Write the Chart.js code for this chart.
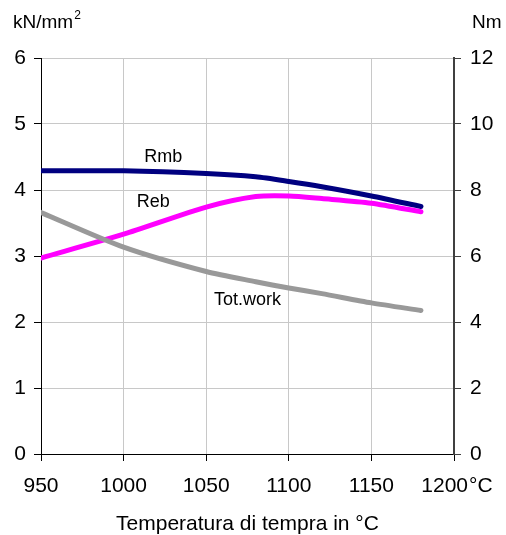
<!DOCTYPE html>
<html>
<head>
<meta charset="utf-8">
<script src="https://cdn.jsdelivr.net/npm/chart.js@4"></script>
<style>
  html, body { margin: 0; padding: 0; background: #fff; }
  #wrap { position: relative; width: 506px; height: 535px; }
</style>
</head>
<body>
<div id="wrap"><canvas id="cv"></canvas></div>
<script>
// temperatura di tempra (°C)
const temps     = [950, 1000, 1050, 1080, 1100, 1120, 1150, 1180];
// kN/mm2 (asse sinistro)
const rmb       = [4.29, 4.29, 4.25, 4.20, 4.13, 4.05, 3.91, 3.75];
const reb       = [2.97, 3.33, 3.74, 3.90, 3.91, 3.87, 3.80, 3.67];
// Nm (asse destro)
const totWork   = [7.32, 6.27, 5.53, 5.22, 5.03, 4.86, 4.58, 4.35];

const xTicks    = [950, 1000, 1050, 1100, 1150, 1200];
const leftMax   = 6,  leftStep  = 1;
const rightMax  = 12, rightStep = 2;

const FONT = 'Liberation Sans, Arial, sans-serif';
const FS = 21;      // tick e titolo asse x
const FS_LBL = 18;  // etichette curve
const FS_UNIT = 19; // unità assi y
const pts = arr => temps.map((t, i) => ({ x: t, y: arr[i] }));

// etichette delle curve (in coordinate dati)
const curveLabels = [
  { text: 'Rmb',      x: 1024, y: 4.50, axis: 'y' },
  { text: 'Reb',      x: 1018, y: 3.82, axis: 'y' },
  { text: 'Tot.work', x: 1075, y: 4.66, axis: 'y2' },
];

const textPlugin = {
  id: 'texts',
  afterDraw(chart) {
    const ctx = chart.ctx, xs = chart.scales.x;
    ctx.save();
    ctx.fillStyle = '#000';
    ctx.font = FS_LBL + 'px ' + FONT;
    ctx.textBaseline = 'middle';
    ctx.textAlign = 'center';
    curveLabels.forEach(l => {
      ctx.fillText(l.text, xs.getPixelForValue(l.x), chart.scales[l.axis].getPixelForValue(l.y));
    });
    // asse x: 1200 °C
    const px = xs.getPixelForValue(1200);
    ctx.font = FS + 'px ' + FONT;
    ctx.textBaseline = 'alphabetic';
    ctx.textAlign = 'right';
    ctx.fillText('1200', px + 14, 492);
    ctx.textAlign = 'left';
    ctx.fillText('°C', px + 15, 492);
    // titoli assi y
    ctx.font = FS_UNIT + 'px ' + FONT;
    ctx.fillText('kN/mm', 13, 28);
    const w = ctx.measureText('kN/mm').width;
    ctx.font = '12px ' + FONT;
    ctx.fillText('2', 13 + w + 1, 19);
    ctx.font = FS_UNIT + 'px ' + FONT;
    ctx.fillText('Nm', 472, 28);
    ctx.restore();
  }
};

const lineDs = (label, data, color, axis) => ({
  label, data: pts(data), yAxisID: axis,
  borderColor: color, backgroundColor: color,
  borderWidth: 5, pointRadius: 0, tension: 0.25,
  borderCapStyle: 'round', borderJoinStyle: 'round', fill: false,
});

new Chart(document.getElementById('cv'), {
  type: 'line',
  data: {
    datasets: [
      lineDs('Tot.work', totWork, '#999999', 'y2'),
      lineDs('Reb', reb, '#ff00ff', 'y'),
      lineDs('Rmb', rmb, '#000080', 'y'),
    ],
  },
  options: {
    responsive: true, maintainAspectRatio: false, animation: false,
    layout: { padding: { top: 58, left: 0, right: 0, bottom: 0 } },
    plugins: { legend: { display: false }, tooltip: { enabled: false } },
    scales: {
      x: {
        type: 'linear', min: 950, max: 1200,
        afterBuildTicks: s => { s.ticks = xTicks.map(v => ({ value: v })); },
        afterFit: s => { s.height = 81; },
        grid: { color: '#c8c8c8', tickColor: '#000', tickLength: 7 },
        border: { color: '#000', width: 1 },
        ticks: { color: '#000', font: { family: FONT, size: FS }, padding: 13, maxRotation: 0,
                 callback: v => v === 1200 ? '' : String(v) },
        title: { display: true, text: 'Temperatura di tempra in °C', color: '#000',
                 font: { family: FONT, size: FS }, padding: { top: 10, bottom: -2 } },
      },
      y: {
        position: 'left', min: 0, max: leftMax,
        afterFit: s => { s.width = 41; },
        grid: { color: '#c8c8c8', tickColor: '#000', tickLength: 7 },
        border: { color: '#000', width: 1 },
        ticks: { stepSize: leftStep, color: '#000', font: { family: FONT, size: FS }, padding: 8 },
      },
      y2: {
        position: 'right', min: 0, max: rightMax,
        afterFit: s => { s.width = 52; },
        grid: { drawOnChartArea: false, tickColor: '#404040', tickLength: 7 },
        border: { color: '#404040', width: 2 },
        ticks: { stepSize: rightStep, color: '#000', font: { family: FONT, size: FS }, padding: 9 },
      },
    },
  },
  plugins: [textPlugin],
});
</script>
</body>
</html>
